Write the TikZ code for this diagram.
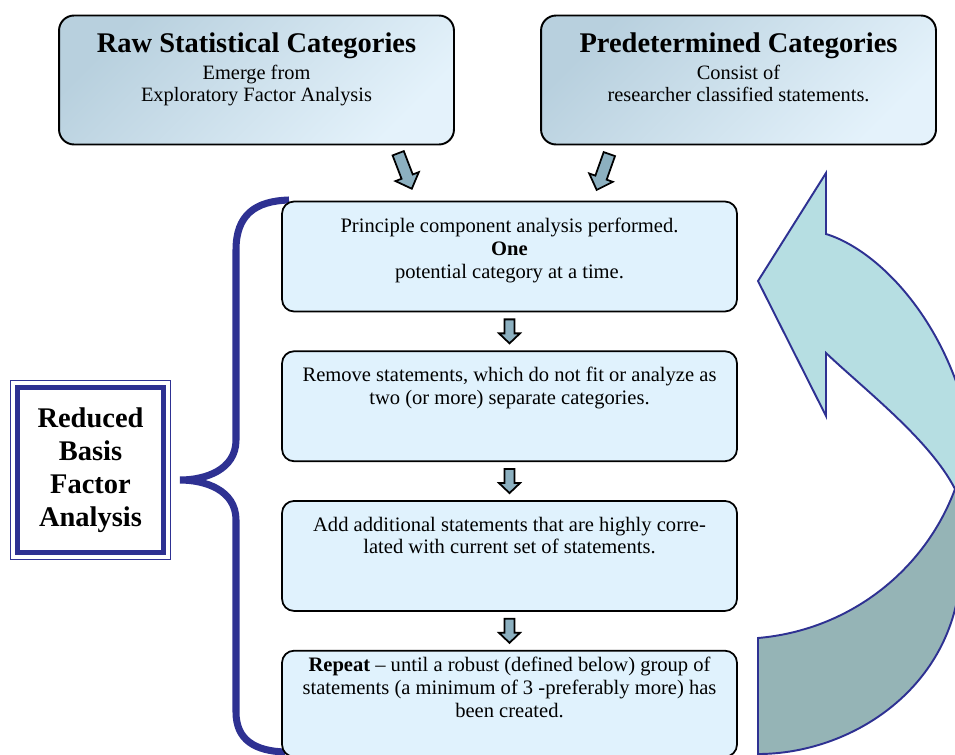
\documentclass[tikz,border=0pt]{standalone}
\usepackage{fontspec}
\setmainfont{Liberation Serif}
\usepackage{tikz}
\usetikzlibrary{positioning,calc}
\definecolor{bracecol}{RGB}{46,49,146}
\definecolor{stepfill}{RGB}{224,242,253}
\definecolor{srcdark}{RGB}{184,208,222}
\definecolor{srclight}{RGB}{228,242,251}
\definecolor{arrowfill}{RGB}{140,176,192}
\definecolor{loopfront}{RGB}{182,222,226}
\definecolor{loopback}{RGB}{149,180,182}
\newcommand\titlefont{\bfseries\fontsize{16.2}{19}\selectfont}
\tikzset{
    %Define style for the two source boxes
    srcbox/.style={
           rectangle,
           rounded corners=0.3cm,
           draw=black, line width=1.1pt,
           minimum width=7.9cm,
           minimum height=2.58cm,
           inner sep=0pt,
           shade, shading=axis, left color=srcdark, right color=srclight,
           shading angle=45},
    srctext/.style={
           align=center,
           inner sep=0pt,
           font=\fontsize{11.6}{12.5}\selectfont},
    %Define style for the steps
    stepbox/.style={
           rectangle,
           rounded corners=0.24cm,
           draw=black, line width=1pt,
           fill=stepfill,
           minimum width=9.1cm,
           minimum height=2.2cm,
           inner sep=0pt},
    steptext/.style={
           align=center,
           inner sep=0pt,
           font=\fontsize{11.7}{12.9}\selectfont},
    rbfabox/.style={
           rectangle,
           draw=bracecol, line width=2.8pt,
           fill=white,
           minimum width=2.92cm,
           minimum height=3.3cm,
           align=center,
           font=\bfseries\fontsize{16.2}{18.9}\selectfont},
    brace/.style={
           draw=bracecol,
           line width=4pt},
    loopline/.style={
           draw=bracecol,
           line width=1.1pt},
    % Define block arrows
    pics/catarrow/.style={code={
           \filldraw[fill=arrowfill, draw=black, line width=1pt]
             (0,19) -- (-12.5,6) -- (-6,6) -- (-6,-19) -- (6,-19) -- (6,6) -- (12.5,6) -- cycle;}},
    pics/steparrow/.style={code={
           \filldraw[fill=arrowfill, draw=black, line width=1pt]
             (0,12) -- (-10.5,2) -- (-5,2) -- (-5,-12) -- (5,-12) -- (5,2) -- (10.5,2) -- cycle;}}
}
\begin{document}
\begin{tikzpicture}[x=0.02cm,y=-0.02cm,node distance=0.76cm]
\useasboundingbox (0,0) rectangle (955,754);
% loop arrow
\begin{scope}
\clip (0,0) rectangle (955,754);
\filldraw[loopline, fill=loopback] (758,638) .. controls (850,630) and (925,570) .. (955,489)
    -- (990,489) -- (990,560) -- (960,580) .. controls (950,690) and (850,754) .. (758,754) -- cycle;
\filldraw[loopline, fill=loopfront] (758,281) -- (826,173) -- (826,234)
    .. controls (885,252) and (965,340) .. (975,470) -- (990,470) -- (990,489) -- (955,489)
    .. controls (930,440) and (865,390) .. (826,353) -- (826,416) -- cycle;
\end{scope}
% brace
\draw[brace] (289,200) .. controls (255,201) and (236,215) .. (236,250) -- (236,440)
    .. controls (236,470) and (205,480) .. (180,480)
    .. controls (205,480) and (236,490) .. (236,520) -- (236,712)
    .. controls (236,740) and (255,751) .. (285,752);
% nodes
\node[srcbox] (raw) at (256.5,80) {};
\node[srctext, below=0.366cm of raw.north] (raw-text)
    {{\titlefont Raw Statistical Categories}\\[2.8pt] Emerge from\\ Exploratory Factor Analysis};
\node[srcbox] (pre) at (738.5,80) {};
\node[srctext, below=0.366cm of pre.north] (pre-text)
    {{\titlefont Predetermined Categories}\\[2.8pt] Consist of\\ researcher classified statements.};

\node[stepbox] (pca) at (509.5,256.5) {};
\node[stepbox, below=of pca] (remove) {};
\node[stepbox, below=of remove] (add) {};
\node[stepbox, below=of add, minimum height=2.12cm] (repeat) {};

\node[steptext, below=0.35cm of pca.north] (pca-text)
    {Principle component analysis performed.\\ \textbf{One}\\ potential category at a time.};
\node[steptext, below=0.33cm of remove.north] (remove-text)
    {Remove statements, which do not fit or analyze as\\ two (or more) separate categories.};
\node[steptext, below=0.33cm of add.north] (add-text)
    {Add additional statements that are highly corre-\\ lated with current set of statements.};
\node[steptext, below=0.144cm of repeat.north] (repeat-text)
    {\textbf{Repeat} – until a robust (defined below) group of\\ statements (a minimum of 3 -preferably more) has\\ been created.};

\node[rbfabox] (rbfa) at (90.5,470) {Reduced\\ Basis\\ Factor\\ Analysis};
\draw[bracecol, line width=1pt] ([shift={(-4.5,4.5)}]rbfa.south west) rectangle ([shift={(4.5,-4.5)}]rbfa.north east);

% arrows
\pic[rotate=21] at (405,171) {catarrow};
\pic[rotate=-19.5] at (603,172) {catarrow};
\pic at ($(pca.south)!0.5!(remove.north)$) {steparrow};
\pic at ($(remove.south)!0.5!(add.north)$) {steparrow};
\pic at ($(add.south)!0.5!(repeat.north)$) {steparrow};
\end{tikzpicture}
\end{document}
